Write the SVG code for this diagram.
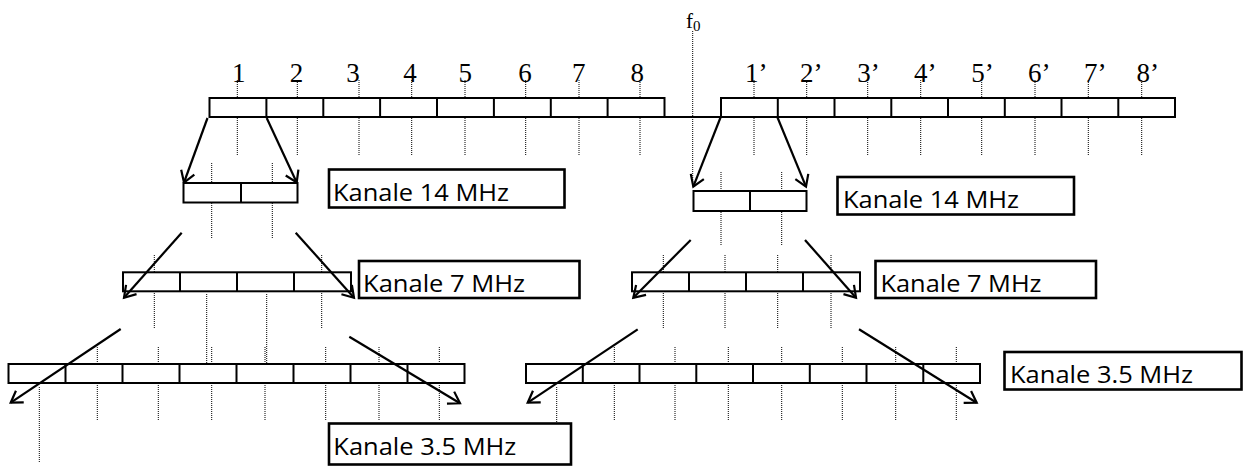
<svg xmlns="http://www.w3.org/2000/svg" width="1244" height="468" viewBox="0 0 1244 468">
<style>
.bar{fill:#fff;stroke:#000;stroke-width:2}
.div{stroke:#000;stroke-width:2}
.dot{stroke:#000;stroke-width:1;stroke-dasharray:1 1}
.arr{stroke:#000;stroke-width:2.2;fill:none;marker-end:url(#ah)}
.lbox{fill:#fff;stroke:#000;stroke-width:2.6}
.lbl{font-family:"Open Sans","Liberation Sans",sans-serif;font-size:24px;fill:#000}
.num{font-family:"Liberation Serif","Times New Roman",serif;font-size:27px;fill:#000}
</style>
<defs>
<marker id="ah" markerUnits="userSpaceOnUse" markerWidth="30" markerHeight="30" refX="0" refY="0" orient="auto" overflow="visible">
<path d="M-11,-7 L0,0 L-11,7" fill="none" stroke="#000" stroke-width="2.2" stroke-linejoin="miter"/>
</marker>
</defs>
<rect width="1244" height="468" fill="#fff"/>

<g id="dotted">
<line class="dot" x1="237.3" y1="80" x2="237.3" y2="155"/>
<line class="dot" x1="297.3" y1="80" x2="297.3" y2="155"/>
<line class="dot" x1="359" y1="80" x2="359" y2="155"/>
<line class="dot" x1="411.7" y1="80" x2="411.7" y2="155"/>
<line class="dot" x1="465" y1="80" x2="465" y2="155"/>
<line class="dot" x1="525.7" y1="80" x2="525.7" y2="155"/>
<line class="dot" x1="579" y1="80" x2="579" y2="155"/>
<line class="dot" x1="640" y1="80" x2="640" y2="155"/>
<line class="dot" x1="754" y1="80" x2="754" y2="155"/>
<line class="dot" x1="806.7" y1="80" x2="806.7" y2="155"/>
<line class="dot" x1="867.7" y1="80" x2="867.7" y2="155"/>
<line class="dot" x1="920.7" y1="80" x2="920.7" y2="155"/>
<line class="dot" x1="981.7" y1="80" x2="981.7" y2="155"/>
<line class="dot" x1="1035" y1="80" x2="1035" y2="155"/>
<line class="dot" x1="1088.3" y1="80" x2="1088.3" y2="155"/>
<line class="dot" x1="1141.7" y1="80" x2="1141.7" y2="155"/>
<line class="dot" x1="692.7" y1="31" x2="692.7" y2="184"/>
<line class="dot" x1="211.7" y1="163" x2="211.7" y2="238"/>
<line class="dot" x1="272.3" y1="163" x2="272.3" y2="238"/>
<line class="dot" x1="721" y1="172" x2="721" y2="246"/>
<line class="dot" x1="781.7" y1="172" x2="781.7" y2="246"/>
<line class="dot" x1="154.3" y1="255" x2="154.3" y2="329"/>
<line class="dot" x1="321.7" y1="255" x2="321.7" y2="329"/>
<line class="dot" x1="206.7" y1="294" x2="206.7" y2="366"/>
<line class="dot" x1="266.7" y1="294" x2="266.7" y2="366"/>
<line class="dot" x1="663.3" y1="255" x2="663.3" y2="329"/>
<line class="dot" x1="725" y1="255" x2="725" y2="329"/>
<line class="dot" x1="777.7" y1="255" x2="777.7" y2="329"/>
<line class="dot" x1="831" y1="255" x2="831" y2="329"/>
<line class="dot" x1="39.3" y1="387" x2="39.3" y2="463"/>
<line class="dot" x1="97.3" y1="347" x2="97.3" y2="421"/>
<line class="dot" x1="158.3" y1="347" x2="158.3" y2="421"/>
<line class="dot" x1="211.7" y1="347" x2="211.7" y2="421"/>
<line class="dot" x1="265" y1="347" x2="265" y2="421"/>
<line class="dot" x1="325.7" y1="347" x2="325.7" y2="421"/>
<line class="dot" x1="379" y1="347" x2="379" y2="421"/>
<line class="dot" x1="439.3" y1="347" x2="439.3" y2="421"/>
<line class="dot" x1="556.7" y1="387" x2="556.7" y2="463"/>
<line class="dot" x1="614.3" y1="347" x2="614.3" y2="421"/>
<line class="dot" x1="675" y1="347" x2="675" y2="421"/>
<line class="dot" x1="728.3" y1="347" x2="728.3" y2="421"/>
<line class="dot" x1="781.7" y1="347" x2="781.7" y2="421"/>
<line class="dot" x1="842.3" y1="347" x2="842.3" y2="421"/>
<line class="dot" x1="895.7" y1="347" x2="895.7" y2="421"/>
<line class="dot" x1="956.3" y1="347" x2="956.3" y2="421"/>
</g>

<g id="axis">
<line x1="664" y1="117" x2="721" y2="117" stroke="#000" stroke-width="2"/>
<text x="686" y="27.5" font-family="'Liberation Serif','Times New Roman',serif" font-size="21">f<tspan font-size="15" dy="3.5">0</tspan></text>
</g>

<g id="bar-top-left">
<rect class="bar" x="209.5" y="98" width="455" height="19"/>
<path class="div" d="M266.4,98V117M323.3,98V117M380.1,98V117M437,98V117M493.9,98V117M550.8,98V117M607.6,98V117"/>
<g class="num">
<text x="232" y="82">1</text><text x="289.7" y="82">2</text><text x="346.3" y="82">3</text><text x="403.3" y="82">4</text>
<text x="458.5" y="82">5</text><text x="518.3" y="82">6</text><text x="572" y="82">7</text><text x="630.5" y="82">8</text>
</g>
</g>

<g id="bar-top-right">
<rect class="bar" x="721" y="98" width="454" height="19"/>
<path class="div" d="M777.8,98V117M834.5,98V117M891.3,98V117M948,98V117M1004.8,98V117M1061.5,98V117M1118.3,98V117"/>
<g class="num">
<text x="745" y="82">1’</text><text x="800" y="82">2’</text><text x="857.3" y="82">3’</text><text x="914" y="82">4’</text>
<text x="971.3" y="82">5’</text><text x="1028" y="82">6’</text><text x="1084" y="82">7’</text><text x="1136.6" y="82">8’</text>
</g>
</g>

<g id="bar-14-left">
<rect class="bar" x="183.5" y="183" width="114" height="19.5"/>
<path class="div" d="M241,183V202.5"/>
</g>
<g id="bar-14-right">
<rect class="bar" x="693.5" y="191" width="113" height="20"/>
<path class="div" d="M750,191V211"/>
</g>
<g id="bar-7-left">
<rect class="bar" x="123" y="272.3" width="228" height="19"/>
<path class="div" d="M180,272.3V291.3M237,272.3V291.3M294,272.3V291.3"/>
</g>
<g id="bar-7-right">
<rect class="bar" x="632" y="272.3" width="228" height="19"/>
<path class="div" d="M689,272.3V291.3M746,272.3V291.3M803,272.3V291.3"/>
</g>
<g id="bar-35-left">
<rect class="bar" x="8.5" y="364" width="456" height="19"/>
<path class="div" d="M65.5,364V383M122.5,364V383M179.5,364V383M236.5,364V383M293.5,364V383M350.5,364V383M407.5,364V383"/>
</g>
<g id="bar-35-right">
<rect class="bar" x="526" y="364" width="454" height="19"/>
<path class="div" d="M582.8,364V383M639.5,364V383M696.3,364V383M753,364V383M809.8,364V383M866.5,364V383M923.3,364V383"/>
</g>

<g id="label-14-left">
<rect class="lbox" x="329" y="169.5" width="235.5" height="38"/>
<text class="lbl" x="333" y="200.8" textLength="176" lengthAdjust="spacingAndGlyphs">Kanale 14 MHz</text>
</g>
<g id="label-14-right">
<rect class="lbox" x="837.5" y="177" width="236.5" height="37.5"/>
<text class="lbl" x="843" y="208" textLength="176" lengthAdjust="spacingAndGlyphs">Kanale 14 MHz</text>
</g>
<g id="label-7-left">
<rect class="lbox" x="359" y="261" width="220.5" height="37"/>
<text class="lbl" x="363" y="291.5" textLength="162" lengthAdjust="spacingAndGlyphs">Kanale 7 MHz</text>
</g>
<g id="label-7-right">
<rect class="lbox" x="875.5" y="261" width="220.5" height="37"/>
<text class="lbl" x="880.5" y="291.5" textLength="161" lengthAdjust="spacingAndGlyphs">Kanale 7 MHz</text>
</g>
<g id="label-35-right">
<rect class="lbox" x="1004.5" y="352" width="237" height="37.5"/>
<text class="lbl" x="1010" y="382.7" textLength="183" lengthAdjust="spacingAndGlyphs">Kanale 3.5 MHz</text>
</g>
<g id="label-35-left">
<rect class="lbox" x="329" y="423.5" width="242" height="41"/>
<text class="lbl" x="333.3" y="455" textLength="183" lengthAdjust="spacingAndGlyphs">Kanale 3.5 MHz</text>
</g>

<g id="connectors">
<line class="arr" x1="207.5" y1="118" x2="184" y2="182.5"/>
<line class="arr" x1="266.7" y1="118" x2="296.7" y2="182.5"/>
<line class="arr" x1="720.7" y1="117" x2="693.3" y2="186.7"/>
<line class="arr" x1="777.3" y1="117" x2="806" y2="186.7"/>
<line class="arr" x1="181.7" y1="232.7" x2="124" y2="297.7"/>
<line class="arr" x1="295.7" y1="232.7" x2="354" y2="297.7"/>
<line class="arr" x1="690.7" y1="240" x2="633.3" y2="297.7"/>
<line class="arr" x1="805" y1="240" x2="856" y2="297.7"/>
<line class="arr" x1="120.7" y1="329" x2="10.7" y2="402.7"/>
<line class="arr" x1="349.3" y1="336.7" x2="460" y2="403.3"/>
<line class="arr" x1="637.7" y1="329.3" x2="527.7" y2="402.7"/>
<line class="arr" x1="859" y1="329.3" x2="976.7" y2="402.7"/>
</g>
</svg>
